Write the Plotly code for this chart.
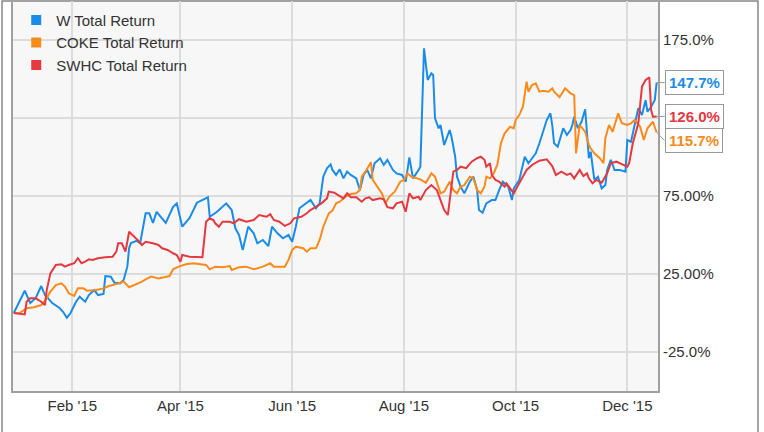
import pandas as pd
import plotly.graph_objects as go

BASE = "2015-01-01"

# W Total Return (day offset from Jan 1 2015, % return)
w_days = [-1, 5, 8, 11, 14, 16, 17, 20, 24, 26, 28, 30, 33, 35, 38, 40, 43, 45, 48, 49, 52, 54, 57, 59, 61, 62, 63, 66, 68,
          71, 73, 75, 77, 79, 82, 86, 88, 91, 95, 99, 102, 105, 106, 110, 115, 118, 120, 122, 124, 127, 130, 132, 135, 138,
          140, 143, 146, 149, 151, 153, 155, 159, 161, 164, 166, 168, 170, 172, 173, 175, 177, 179, 181, 183, 186, 188, 190,
          192, 194, 196, 199, 201, 203, 206, 208, 211, 213, 215, 217, 220, 221, 223, 225, 227, 228, 229, 231, 232, 234, 237,
          238, 240, 241, 243, 245, 248, 250, 252, 253, 255, 257, 260, 262, 264, 266, 269, 271, 272, 275, 278, 280, 282, 284,
          286, 290, 292, 293, 294, 296, 299, 301, 303, 304, 305, 307, 309, 311, 313, 314, 316, 318, 320, 322, 323, 325, 327,
          330, 333, 334, 336, 338, 340, 342, 344, 345, 347, 349, 350]
w_vals = [0, 14.3, 6.4, 9.6, 17.3, 11.5, 10.3, 6.4, 3.2, 0.6, -3.0, 0.0, 7.2, 10.4, 7.2, 11.5, 14.7, 11.5, 12.2, 23.7, 23.3,
          19.4, 19.0, 21.2, 29.7, 41.7, 44.9, 46.3, 44.7, 63.9, 63.9, 57.7, 64.9, 61.7, 57.7, 68.1, 70.3, 55.3, 60.9, 70.7,
          72.4, 74.2, 61.7, 64.9, 70.3, 66.0, 54.3, 50.0, 40.4, 55.3, 51.1, 44.7, 46.8, 42.9, 55.3, 51.1, 47.9, 50.0, 45.7,
          55.3, 67.1, 70.3, 72.4, 67.1, 70.3, 87.4, 92.8, 95.3, 91.7, 88.5, 92.1, 86.3, 90.6, 88.5, 86.3, 78.8, 88.5, 91.7,
          86.3, 96.0, 99.2, 94.9, 98.2, 91.7, 89.5, 88.5, 84.2, 99.8, 86.3, 91.7, 93.8, 169.7, 149.4, 153.6, 152.6, 124.8,
          118.4, 120.5, 107.7, 117.3, 113.0, 100.2, 87.4, 81.0, 76.7, 84.2, 87.4, 78.8, 66.0, 64.3, 70.3, 72.4, 72.4, 78.8,
          84.2, 81.0, 72.4, 79.9, 85.3, 100.2, 96.0, 99.2, 102.4, 108.8, 123.7, 128.0, 120.5, 108.8, 106.6, 118.4, 114.1,
          117.3, 120.5, 125.8, 118.4, 122.6, 130.6, 99.2, 103.4, 85.3, 87.4, 79.9, 82.0, 91.7, 98.1, 91.7, 91.7, 90.6, 110.9,
          109.8, 120.5, 131.2, 126.9, 136.5, 129.0, 132.2, 136.5, 147.7]

# COKE Total Return
coke_days = [-1, 2, 6, 10, 14, 17, 19, 22, 25, 27, 29, 32, 34, 37, 39, 44, 48, 51, 55, 59, 62, 65, 69, 71, 74, 78, 82, 84,
             86, 89, 93, 97, 100, 104, 106, 109, 113, 117, 118, 122, 126, 130, 135, 139, 141, 147, 149, 151, 153, 157, 159,
             161, 164, 166, 168, 170, 171, 173, 175, 177, 180, 183, 186, 188, 189, 191, 194, 195, 197, 200, 202, 204, 207,
             210, 212, 214, 216, 219, 221, 224, 227, 229, 232, 234, 237, 239, 241, 243, 245, 248, 250, 252, 254, 256, 257,
             259, 261, 263, 265, 267, 270, 272, 273, 275, 277, 279, 280, 282, 284, 286, 288, 291, 293, 294, 297, 300, 303,
             305, 306, 308, 311, 313, 314, 316, 319, 321, 322, 324, 326, 329, 331, 334, 336, 338, 341, 343, 345, 348, 350]
coke_vals = [0, -0.2, 3.0, 3.7, 5.1, 9.4, 13.7, 17.9, 19.0, 16.9, 12.6, 10.9, 15.8, 15.8, 14.3, 14.7, 15.8, 17.3, 18.6, 20.1,
             16.5, 17.9, 20.1, 21.6, 23.3, 22.2, 22.9, 23.7, 28.0, 29.7, 31.2, 31.9, 31.4, 30.8, 28.0, 29.7, 29.3, 30.1, 27.6,
             29.3, 29.7, 28.0, 29.7, 31.9, 29.7, 29.7, 34.0, 40.4, 42.5, 41.5, 39.3, 41.5, 41.5, 46.8, 55.3, 60.7, 63.9, 65.6,
             70.3, 71.3, 74.5, 76.3, 76.7, 78.8, 87.4, 90.6, 96.6, 85.3, 82.0, 76.7, 70.3, 74.5, 77.8, 84.2, 85.3, 89.5, 87.4,
             86.3, 85.7, 83.5, 89.5, 87.4, 76.7, 77.8, 84.2, 78.8, 76.7, 81.0, 82.0, 87.4, 86.3, 78.8, 76.7, 81.0, 87.4, 86.3,
             89.5, 94.9, 108.8, 115.2, 119.4, 118.4, 123.7, 126.9, 132.2, 148.3, 141.9, 146.1, 147.2, 141.9, 142.5, 141.9,
             144.0, 141.9, 138.3, 144.0, 140.8, 139.7, 102.4, 120.5, 116.2, 107.7, 105.6, 102.4, 99.2, 96.0, 112.0, 120.5,
             116.2, 128.0, 121.6, 120.5, 121.6, 123.7, 119.4, 110.9, 118.4, 122.6, 115.7]

# SWHC Total Return
swhc_days = [-1, 2, 5, 6, 8, 11, 14, 16, 17, 19, 22, 25, 27, 29, 32, 34, 36, 38, 40, 42, 45, 49, 53, 55, 56, 58, 60, 62, 64,
             67, 69, 71, 75, 78, 80, 83, 86, 88, 90, 91, 95, 99, 102, 104, 106, 108, 109, 111, 113, 117, 119, 122, 126, 130,
             133, 137, 139, 141, 144, 147, 150, 152, 156, 159, 161, 164, 167, 170, 171, 174, 176, 179, 181, 183, 186, 189,
             191, 193, 195, 199, 201, 203, 206, 208, 211, 213, 215, 217, 220, 221, 224, 227, 230, 232, 234, 236, 238, 239,
             241, 243, 246, 249, 252, 254, 256, 257, 259, 260, 262, 264, 267, 268, 270, 272, 274, 276, 279, 282, 284, 286,
             290, 293, 295, 298, 301, 303, 305, 308, 310, 312, 313, 315, 317, 320, 323, 325, 328, 330, 334, 335, 337, 340,
             342, 344, 346, 347, 348, 350]
swhc_vals = [0, -0.6, -0.9, 7.2, 9.4, 9.4, 7.2, 5.1, 14.7, 25.4, 30.8, 31.2, 29.7, 30.8, 31.9, 35.1, 31.9, 32.9, 34.4, 34.0,
             35.1, 35.7, 36.1, 39.3, 44.7, 44.7, 39.3, 52.1, 50.0, 46.3, 43.6, 45.7, 44.7, 43.6, 41.5, 40.4, 38.3, 37.2, 32.9,
             37.2, 36.1, 36.1, 35.7, 58.5, 60.7, 59.6, 57.5, 55.3, 58.5, 58.5, 57.5, 60.1, 58.5, 59.6, 62.8, 61.7, 63.3, 59.6,
             58.5, 55.8, 57.5, 60.7, 61.7, 63.9, 66.0, 68.1, 70.3, 73.5, 77.8, 77.1, 75.6, 73.5, 76.7, 74.2, 74.2, 71.3, 73.5,
             74.2, 72.4, 73.5, 72.9, 67.8, 67.1, 70.3, 71.3, 64.9, 76.7, 73.5, 74.5, 72.4, 78.8, 82.0, 78.8, 72.4, 66.0, 62.8,
             81.0, 90.6, 91.7, 93.8, 92.8, 97.0, 99.2, 100.2, 98.2, 93.8, 96.0, 88.5, 85.3, 84.2, 81.0, 83.1, 79.9, 76.7, 81.0,
             85.3, 91.7, 94.9, 96.0, 97.6, 98.5, 94.2, 88.5, 90.6, 88.5, 89.5, 86.3, 91.7, 87.8, 89.5, 86.3, 83.1, 85.3, 83.5,
             89.5, 96.0, 97.0, 96.0, 93.8, 96.0, 108.8, 121.6, 145.1, 149.4, 151.1, 130.1, 125.8, 126.0]

series_names = ["W Total Return", "COKE Total Return", "SWHC Total Return"]
series_colors = ["#1a8ce8", "#fb8a1c", "#e5393f"]
end_labels = ["147.7%", "115.7%", "126.0%"]
end_shift = [0, 8, 0]

y_tickvals = [175, 125, 75, 25, -25]
y_ticktext = ["175.0%", "", "75.00%", "25.00%", "-25.0%"]
x_tickvals = ["2015-02-01", "2015-04-01", "2015-06-01", "2015-08-01", "2015-10-01", "2015-12-01"]
x_ticktext = ["Feb '15", "Apr '15", "Jun '15", "Aug '15", "Oct '15", "Dec '15"]


def to_dates(days):
    return pd.Timestamp(BASE) + pd.to_timedelta(days, unit="D")


data = [(w_days, w_vals), (coke_days, coke_vals), (swhc_days, swhc_vals)]

fig = go.Figure()
for (d, v), name, col in zip(data, series_names, series_colors):
    fig.add_trace(go.Scatter(x=to_dates(d), y=v, mode="lines", name=name,
                             line=dict(color=col, width=2), showlegend=False))
for name, col in zip(series_names, series_colors):
    fig.add_trace(go.Scatter(x=[None], y=[None], mode="markers", name=name,
                             marker=dict(symbol="square", size=10, color=col)))

for (d, v), col, lab, sh in zip(data, series_colors, end_labels, end_shift):
    fig.add_annotation(x=to_dates([d[-1]])[0], y=v[-1], xref="x", yref="y",
                       text="<b>%s</b>" % lab, showarrow=True, arrowhead=0, arrowwidth=1,
                       arrowcolor="#999999", ax=8, ay=sh, xanchor="left",
                       font=dict(color=col, size=15, family="Liberation Sans, Arial"),
                       bgcolor="white", bordercolor="#999999", borderwidth=1, borderpad=3)

# outer frame
fig.add_shape(type="rect", xref="paper", yref="paper", x0=-0.017, x1=1.155, y0=-0.12, y1=1.0,
              line=dict(color="#888888", width=1.5), fillcolor="rgba(0,0,0,0)", layer="below")

fig.update_layout(
    width=764, height=432,
    margin=dict(l=13, r=106, t=1, b=41),
    paper_bgcolor="white", plot_bgcolor="#f7f7f7",
    font=dict(family="Liberation Sans, Arial", color="#333333", size=15),
    legend=dict(x=0.005, y=0.993, xanchor="left", yanchor="top", bgcolor="rgba(0,0,0,0)",
                font=dict(size=15, color="#333333"), itemwidth=30, tracegroupgap=0),
    xaxis=dict(range=["2014-12-30 14:00", "2015-12-17 18:00"], tickvals=x_tickvals, ticktext=x_ticktext,
               showgrid=True, gridcolor="#dcdcdc", gridwidth=1.5, zeroline=False, automargin=False,
               showline=True, linecolor="#a0a0a0", linewidth=2, mirror=True, ticks="",
               tickfont=dict(size=15)),
    yaxis=dict(range=[-50, 200], side="right", tickvals=y_tickvals, ticktext=y_ticktext,
               showgrid=True, gridcolor="#dcdcdc", gridwidth=1.5, zeroline=False, automargin=False,
               showline=True, linecolor="#a0a0a0", linewidth=2, mirror=True, ticks="",
               tickfont=dict(size=15)),
)

fig.write_html("out.html", config={"displayModeBar": False},
               post_script="document.body.style.margin='0';document.body.style.overflow='hidden';")
